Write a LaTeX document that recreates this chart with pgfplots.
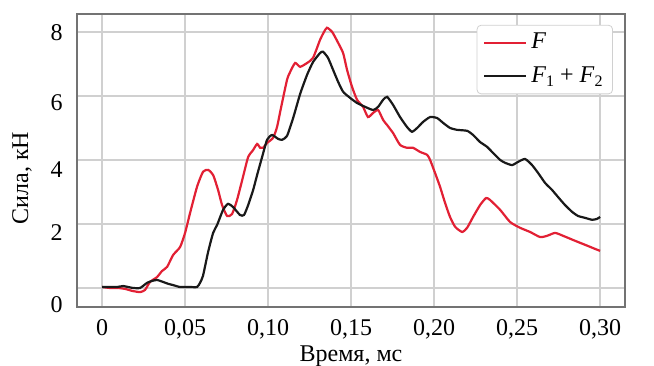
\documentclass[border=0pt]{standalone}
\usepackage{fontspec}
\setmainfont{Liberation Serif}
\usepackage{pgfplots}
\pgfplotsset{compat=1.18}
\definecolor{fred}{RGB}{226,32,52}
\definecolor{fblk}{RGB}{25,25,25}
\definecolor{gridc}{RGB}{208,208,208}
\definecolor{framec}{RGB}{115,115,115}
\begin{document}
\fontsize{12}{14.4}\selectfont
\begin{tikzpicture}
\begin{axis}[
  name=ax,
  scale only axis,
  width=274pt, height=146.5pt,
  xmin=-0.0151, xmax=0.315,
  ymin=-0.594, ymax=8.56,
  axis line style={draw=framec, line width=1pt},
  grid=major,
  major grid style={draw=gridc, line width=0.75pt},
  major tick length=0pt,
  xtick={0,0.05,0.10,0.15,0.20,0.25,0.30},
  xticklabels={0,{0,05},{0,10},{0,15},{0,20},{0,25},{0,30}},
  xticklabel style={anchor=base, yshift=-14.5pt, font=\fontsize{12}{14.4}\selectfont},
  ytick={0,2,4,6,8},
  yticklabels={{},{},{},{},{}},
  extra y ticks={-0.53,1.72,3.69,5.78,7.97},
  extra y tick labels={0,2,4,6,8},
  extra y tick style={grid=none, major tick length=0pt,
    yticklabel style={anchor=east, inner sep=0pt, xshift=-7pt, font=\fontsize{12}{14.4}\selectfont}},
  every axis x label/.style={at={(axis description cs:0.5,-0.186)}, anchor=base},
  every axis y label/.style={at={(axis description cs:-0.1004,0.44)}, rotate=90, anchor=center},
  xlabel={Время, мс},
  ylabel={Сила, кН},
  label style={font=\fontsize{12}{14.4}\selectfont},
  legend style={at={(axis description cs:0.978,0.963)}, anchor=north east,
    draw=gridc, rounded corners=2pt, fill=white,
    font=\fontsize{12}{14.4}\selectfont,
    inner xsep=3pt, inner ysep=2pt, row sep=3pt},
  legend cell align=left,
  legend image code/.code={\draw[#1] (0pt,0pt) -- (21pt,0pt);},
]
\addplot[fred, line width=1.1pt, smooth, tension=0.35] coordinates {
(0.0000,0.03)(0.0048,0.00)(0.0096,0.00)(0.0139,-0.03)(0.0181,-0.09)(0.0229,-0.13)
(0.0259,-0.06)(0.0289,0.19)(0.0331,0.34)(0.0361,0.53)(0.0392,0.66)(0.0428,1.03)
(0.0470,1.28)(0.0500,1.72)(0.0530,2.34)(0.0572,3.16)(0.0608,3.63)(0.0639,3.69)
(0.0669,3.53)(0.0699,3.06)(0.0723,2.59)(0.0753,2.25)(0.0783,2.31)(0.0813,2.75)
(0.0849,3.47)(0.0880,4.09)(0.0910,4.31)(0.0934,4.50)(0.0952,4.38)(0.0970,4.38)
(0.0994,4.53)(0.1030,4.69)(0.1054,5.03)(0.1078,5.63)(0.1114,6.50)(0.1133,6.75)
(0.1163,7.03)(0.1193,6.91)(0.1235,7.03)(0.1271,7.19)(0.1313,7.75)(0.1337,8.00)
(0.1355,8.13)(0.1386,8.00)(0.1422,7.66)(0.1452,7.34)(0.1476,6.81)(0.1506,6.28)
(0.1536,5.88)(0.1572,5.66)(0.1602,5.34)(0.1633,5.47)(0.1663,5.56)(0.1693,5.25)
(0.1717,5.09)(0.1753,4.84)(0.1795,4.47)(0.1837,4.38)(0.1873,4.38)(0.1916,4.25)
(0.1958,4.16)(0.1976,4.00)(0.2006,3.59)(0.2036,3.16)(0.2066,2.66)(0.2096,2.22)
(0.2127,1.91)(0.2169,1.75)(0.2199,1.88)(0.2235,2.22)(0.2277,2.59)(0.2313,2.81)
(0.2337,2.75)(0.2398,2.44)(0.2458,2.06)(0.2518,1.88)(0.2578,1.75)(0.2639,1.59)
(0.2681,1.63)(0.2729,1.72)(0.2777,1.63)(0.2837,1.50)(0.2880,1.41)(0.2928,1.31)
(0.2970,1.22)(0.3000,1.16)
};
\addlegendentry{\textit{F}}
\addplot[fblk, line width=1.1pt, smooth, tension=0.35] coordinates {
(0.0000,0.03)(0.0048,0.03)(0.0090,0.03)(0.0127,0.06)(0.0157,0.03)(0.0187,0.00)
(0.0229,0.00)(0.0271,0.16)(0.0301,0.22)(0.0331,0.25)(0.0367,0.19)(0.0398,0.13)
(0.0428,0.09)(0.0470,0.03)(0.0530,0.03)(0.0572,0.03)(0.0590,0.16)(0.0608,0.38)
(0.0639,1.13)(0.0669,1.72)(0.0693,1.97)(0.0729,2.44)(0.0759,2.63)(0.0789,2.53)
(0.0831,2.28)(0.0855,2.28)(0.0880,2.59)(0.0910,3.06)(0.0934,3.53)(0.0964,4.09)
(0.0994,4.63)(0.1024,4.78)(0.1060,4.66)(0.1084,4.63)(0.1114,4.75)(0.1151,5.31)
(0.1193,6.06)(0.1235,6.66)(0.1271,7.06)(0.1313,7.34)(0.1331,7.38)(0.1361,7.19)
(0.1392,6.81)(0.1422,6.44)(0.1452,6.13)(0.1494,5.94)(0.1536,5.78)(0.1584,5.66)
(0.1633,5.56)(0.1663,5.66)(0.1693,5.88)(0.1717,5.97)(0.1753,5.72)(0.1795,5.34)
(0.1837,5.03)(0.1867,4.88)(0.1898,5.00)(0.1934,5.19)(0.1976,5.34)(0.2018,5.31)
(0.2054,5.16)(0.2096,5.00)(0.2139,4.94)(0.2199,4.91)(0.2235,4.78)(0.2277,4.56)
(0.2319,4.41)(0.2355,4.22)(0.2398,4.00)(0.2428,3.91)(0.2470,3.84)(0.2506,3.94)
(0.2548,4.03)(0.2590,3.84)(0.2627,3.59)(0.2669,3.28)(0.2711,3.06)(0.2747,2.84)
(0.2789,2.59)(0.2831,2.38)(0.2867,2.25)(0.2910,2.19)(0.2952,2.13)(0.2982,2.16)
(0.3000,2.22)
};
\addlegendentry{\textit{F}\raisebox{-0.35ex}{\fontsize{8}{9}\selectfont 1} + \textit{F}\raisebox{-0.35ex}{\fontsize{8}{9}\selectfont 2}}
\end{axis}
\pgfresetboundingbox
\path ([shift={(-38.5pt,-29.5pt)}]ax.south west) rectangle ([shift={(14.5pt,7pt)}]ax.north east);
\end{tikzpicture}
\end{document}
